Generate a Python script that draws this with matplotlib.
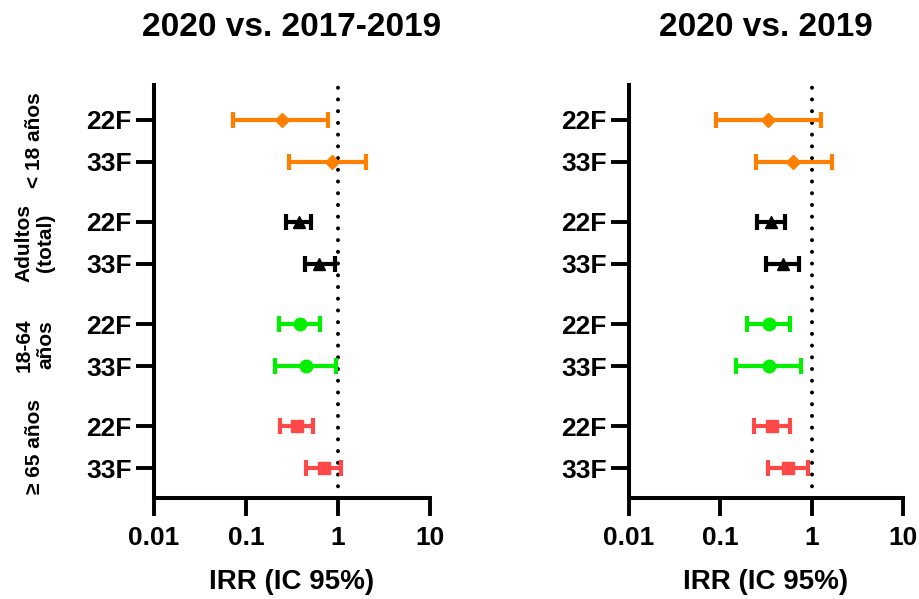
import matplotlib
matplotlib.use("Agg")
import matplotlib.pyplot as plt
from matplotlib.ticker import NullLocator

plt.rcParams['font.family'] = ['Liberation Sans', 'DejaVu Sans']

# ---- data ----
groups = ["< 18 años", "Adultos\n(total)", "18-64\naños", "≥ 65 años"]
serotypes = ["22F", "33F"]
group_colors = ["#FF8000", "#000000", "#00F000", "#FF4848"]
group_markers = ["D", "^", "o", "s"]

titles = ["2020 vs. 2017-2019", "2020 vs. 2019"]

# order: <18 22F, <18 33F, Adultos 22F, Adultos 33F, 18-64 22F, 18-64 33F, >=65 22F, >=65 33F
irr_a = [0.245, 0.86, 0.373, 0.616, 0.382, 0.444, 0.360, 0.703]
lo_a = [0.0716, 0.297, 0.274, 0.433, 0.227, 0.209, 0.237, 0.452]
hi_a = [0.778, 2.04, 0.513, 0.92, 0.63, 0.96, 0.533, 1.09]

irr_b = [0.335, 0.629, 0.355, 0.481, 0.340, 0.340, 0.370, 0.554]
lo_b = [0.0893, 0.243, 0.253, 0.313, 0.197, 0.148, 0.235, 0.335]
hi_b = [1.25, 1.66, 0.51, 0.726, 0.578, 0.757, 0.578, 0.918]

xticks = [0.01, 0.1, 1, 10]
xtick_labels = ["0.01", "0.1", "1", "10"]
xlabel = "IRR (IC 95%)"

panels = [(irr_a, lo_a, hi_a), (irr_b, lo_b, hi_b)]

fig = plt.figure(figsize=(9.19, 5.99), dpi=100)
W, H = 919, 599
axes_px = [(154, 85, 430, 498), (629, 85, 903, 498)]

GAP = 2.43
ypos = []
for g in range(len(groups)):
    for k in range(len(serotypes)):
        ypos.append(g * GAP + k)

marker_sizes = {"D": 7.5, "^": 8.5, "o": 9, "s": 8}

for p, (irr, lo, hi) in enumerate(panels):
    x0, y0, x1, y1 = axes_px[p]
    ax = fig.add_axes([x0 / W, 1 - y1 / H, (x1 - x0) / W, (y1 - y0) / H])
    ax.set_xscale('log')
    ax.set_xlim(0.01, 10)
    ax.set_ylim(9.0, -0.83)
    ax.axvline(1, color='black', lw=2.9, ls=(0, (0.01, 2.9)), dash_capstyle='round', zorder=1)
    for i, y in enumerate(ypos):
        g = i // len(serotypes)
        c = group_colors[g]
        m = group_markers[g]
        ax.errorbar([irr[i]], [y], xerr=[[irr[i] - lo[i]], [hi[i] - irr[i]]],
                    fmt=m, color=c, ecolor=c, elinewidth=3.0,
                    capsize=5.5, capthick=3.0, markersize=marker_sizes[m],
                    zorder=3)
    ax.set_yticks(ypos)
    ax.set_yticklabels(serotypes * len(groups), fontsize=19, fontweight='bold')
    ax.set_xticks(xticks)
    ax.set_xticklabels(xtick_labels, fontsize=19, fontweight='bold')
    ax.xaxis.set_minor_locator(NullLocator())
    ax.tick_params(axis='y', length=13, width=2.8, pad=3)
    ax.tick_params(axis='x', length=13, width=2.8, pad=7)
    for s in ['top', 'right']:
        ax.spines[s].set_visible(False)
    for s in ['left', 'bottom']:
        ax.spines[s].set_linewidth(2.9)
    ax.set_xlabel(xlabel, fontsize=20, fontweight='bold', labelpad=14)
    fig.text((x0 + x1) / 2 / W, 1 - 27 / H, titles[p], ha='center', va='center',
             fontsize=24, fontweight='bold')

# group labels on the left
group_label_y = [140, 243, 345, 447]
for g, name in enumerate(groups):
    fig.text(35 / W, 1 - group_label_y[g] / H, name, rotation=90, ha='center', va='center',
             fontsize=15, fontweight='bold', multialignment='center', linespacing=1.2)

fig.savefig("out.png", dpi=100)
